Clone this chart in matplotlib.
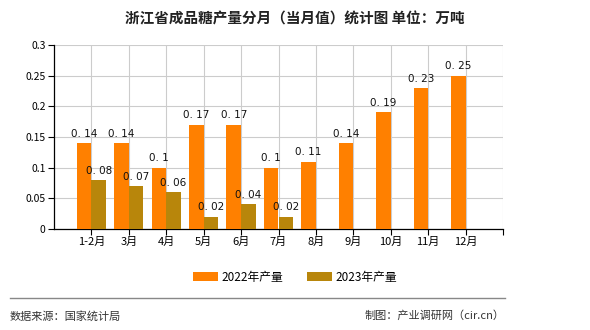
import matplotlib
matplotlib.use("Agg")
import matplotlib.pyplot as plt
from matplotlib.lines import Line2D
import numpy as np

plt.rcParams['font.family'] = ['Noto Sans CJK SC', 'DejaVu Sans']

title = "浙江省成品糖产量分月（当月值）统计图 单位：万吨"
categories = ["1-2月", "3月", "4月", "5月", "6月", "7月", "8月", "9月", "10月", "11月", "12月"]
series_names = ["2022年产量", "2023年产量"]
values_2022 = [0.14, 0.14, 0.1, 0.17, 0.17, 0.1, 0.11, 0.14, 0.19, 0.23, 0.25]
values_2023 = [0.08, 0.07, 0.06, 0.02, 0.04, 0.02]
yticks = [0, 0.05, 0.1, 0.15, 0.2, 0.25, 0.3]
ytick_labels = ["0", "0.05", "0.1", "0.15", "0.2", "0.25", "0.3"]
source_text = "数据来源：国家统计局"
credit_text = "制图：产业调研网（cir.cn）"

c2022 = "#FF8000"
c2023 = "#B8860B"

fig = plt.figure(figsize=(5.9, 3.3), dpi=100)
ax = fig.add_axes([54/590, 1-229/330, (503-54)/590, (229-45)/330])

x = np.arange(len(categories))
w = 0.39
b1 = ax.bar(x[:len(values_2022)] - w/2, values_2022, w, color=c2022, zorder=3)
b2 = ax.bar(x[:len(values_2023)] + w/2, values_2023, w, color=c2023, zorder=3)

def fmt(v):
    s = f"{v:g}"
    return s.replace(".", ". ")

for xi, v in zip(x, values_2022):
    ax.text(xi - w/2, v + 0.007, fmt(v), ha='center', va='bottom', fontsize=7.5,
            family=['DejaVu Sans'], color='#111111', zorder=4)
for xi, v in zip(x, values_2023):
    ax.text(xi + w/2, v + 0.007, fmt(v), ha='center', va='bottom', fontsize=7.5,
            family=['DejaVu Sans'], color='#111111', zorder=4)

ax.set_xlim(-1, len(categories))
ax.set_ylim(0, 0.3)
ax.set_xticks(list(x) + [len(categories)])
ax.set_xticklabels(categories + [""], fontsize=8)
ax.set_yticks(yticks)
ax.set_yticklabels(ytick_labels, fontsize=7.5)
ax.tick_params(axis='both', length=4, width=0.8, color='#000000', pad=2)
ax.grid(True, color='#cccccc', linewidth=0.8, zorder=0)
for s in ['top', 'right']:
    ax.spines[s].set_visible(False)
ax.spines['left'].set_color('#000000')
ax.spines['bottom'].set_color('#000000')
ax.spines['left'].set_linewidth(0.9)
ax.spines['bottom'].set_linewidth(0.9)

fig.text(0.5, 1-18/330, title, ha='center', va='center', fontsize=10.5, fontweight='bold', color='#222222')

leg = fig.legend([b1, b2], series_names, loc='center', bbox_to_anchor=(0.5, 1-277/330),
                 ncol=2, frameon=False, fontsize=8.5, handlelength=2.1, handleheight=0.8,
                 columnspacing=2.0, handletextpad=0.3)

fig.add_artist(Line2D([10/590, 505/590], [1-298/330, 1-298/330], color='#888888', linewidth=1))
fig.text(10/590, 1-316/330, source_text, ha='left', va='center', fontsize=8, color='#333333')
fig.text(505/590, 1-316/330, credit_text, ha='right', va='center', fontsize=8, color='#333333')

fig.savefig("out.png", dpi=100)
